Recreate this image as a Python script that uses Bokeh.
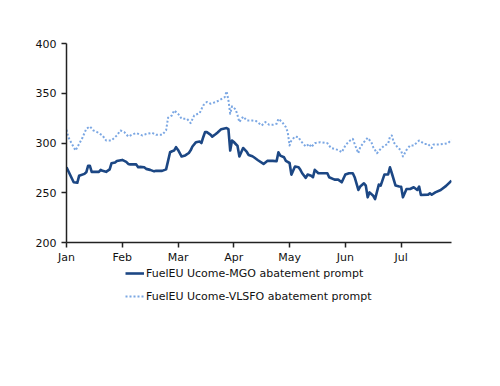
from bokeh.plotting import figure
from bokeh.layouts import column
from bokeh.models import Range1d, FixedTicker, Legend, LegendItem
from bokeh.embed import file_html
from bokeh.resources import INLINE
import calendar

YEAR = 2025
month_labels = ["Jan", "Feb", "Mar", "Apr", "May", "Jun", "Jul"]
y_ticks = [200, 250, 300, 350, 400]

mgo_dates = [
    "01-01", "01-05", "01-07", "01-08", "01-11", "01-12", "01-13", "01-14", "01-15", "01-19",
    "01-20", "01-21", "01-23", "01-25", "01-26", "01-28", "01-29", "02-01", "02-03", "02-04",
    "02-05", "02-08", "02-09", "02-10", "02-12", "02-13", "02-15", "02-17", "02-18", "02-21",
    "02-23", "02-24", "02-25", "02-26", "02-27", "02-28", "03-01", "03-03", "03-05", "03-07",
    "03-08", "03-09", "03-11", "03-13", "03-14", "03-15", "03-16", "03-17", "03-19", "03-20",
    "03-22", "03-23", "03-25", "03-28", "03-29", "03-30", "03-31", "04-01", "04-02", "04-03",
    "04-04", "04-06", "04-08", "04-09", "04-11", "04-12", "04-14", "04-17", "04-19", "04-22",
    "04-24", "04-25", "04-26", "04-28", "04-29", "05-01", "05-02", "05-04", "05-06", "05-07",
    "05-08", "05-10", "05-11", "05-13", "05-14", "05-15", "05-17", "05-19", "05-22", "05-23",
    "05-26", "05-28", "05-30", "06-01", "06-03", "06-05", "06-06", "06-08", "06-09", "06-11",
    "06-12", "06-13", "06-14", "06-16", "06-17", "06-19", "06-20", "06-22", "06-24", "06-25",
    "06-26", "06-28", "06-30", "07-01", "07-02", "07-04", "07-06", "07-08", "07-10", "07-11",
    "07-12", "07-16", "07-17", "07-18", "07-20", "07-23", "07-26", "07-29",
]
mgo_values = [
    275.6, 260.5, 260.0, 267.0, 269.0, 270.5, 277.0, 277.0, 271.0, 271.0,
    273.0, 272.0, 271.0, 273.5, 279.6, 280.5, 282.0, 283.0, 281.0, 279.0,
    278.5, 278.5, 275.7, 276.0, 275.7, 274.0, 273.0, 271.5, 272.0, 272.0,
    273.5, 282.0, 290.7, 291.7, 292.4, 295.8, 293.0, 286.4, 287.5, 290.0,
    292.6, 296.5, 300.8, 301.5, 300.0, 305.8, 310.9, 310.9, 308.5, 306.4,
    309.0, 310.5, 313.9, 315.0, 314.0, 292.4, 302.5, 301.0, 299.0, 297.0,
    286.4, 295.0, 291.0, 288.0, 286.7, 285.4, 282.7, 279.0, 282.0, 282.0,
    281.6, 290.7, 287.3, 285.7, 282.0, 279.9, 268.2, 276.3, 275.6, 273.0,
    269.6, 265.0, 268.3, 267.0, 265.6, 273.0, 269.6, 269.6, 269.6, 265.6,
    263.2, 263.2, 260.5, 268.3, 269.6, 269.6, 265.6, 252.8, 256.2, 259.5,
    257.2, 245.4, 250.4, 247.0, 243.7, 258.2, 257.2, 268.3, 268.3, 275.6,
    269.6, 257.2, 256.2, 256.0, 245.4, 253.8, 253.8, 255.5, 252.8, 256.2,
    247.8, 248.1, 249.4, 248.0, 250.4, 252.8, 256.9, 262.2,
]

vlsfo_dates = [
    "01-01", "01-02", "01-04", "01-06", "01-08", "01-10", "01-12", "01-14", "01-16", "01-18",
    "01-21", "01-23", "01-26", "01-29", "01-31", "02-02", "02-04", "02-06", "02-08", "02-11",
    "02-13", "02-16", "02-18", "02-21", "02-23", "02-24", "02-26", "02-27", "03-01", "03-03",
    "03-06", "03-08", "03-10", "03-13", "03-15", "03-17", "03-19", "03-22", "03-24", "03-27",
    "03-28", "03-29", "03-30", "03-31", "04-02", "04-03", "04-04", "04-06", "04-08", "04-11",
    "04-13", "04-16", "04-18", "04-20", "04-22", "04-24", "04-25", "04-27", "04-29", "04-30",
    "05-01", "05-02", "05-04", "05-06", "05-07", "05-10", "05-12", "05-13", "05-15", "05-18",
    "05-22", "05-24", "05-28", "05-30", "06-01", "06-03", "06-05", "06-06", "06-08", "06-09",
    "06-11", "06-13", "06-15", "06-16", "06-18", "06-20", "06-22", "06-24", "06-25", "06-26",
    "06-27", "06-29", "07-01", "07-02", "07-04", "07-06", "07-08", "07-11", "07-14", "07-16",
    "07-18", "07-19", "07-22", "07-25", "07-27", "07-29",
]
vlsfo_values = [
    313.3, 306.0, 299.0, 292.4, 299.0, 305.8, 314.3, 316.6, 312.6, 311.0,
    307.6, 302.5, 302.5, 307.6, 312.6, 311.0, 306.5, 308.5, 310.0, 307.6,
    309.0, 310.2, 308.2, 308.2, 312.6, 325.4, 327.8, 332.7, 329.4, 324.3,
    324.3, 320.0, 327.8, 330.0, 337.8, 341.2, 339.5, 341.2, 343.0, 346.2,
    352.0, 343.0, 329.4, 336.8, 333.8, 327.8, 321.0, 326.5, 322.6, 322.6,
    322.0, 317.6, 321.0, 318.3, 318.3, 319.3, 324.3, 321.0, 315.9, 310.9,
    297.5, 302.5, 306.5, 305.8, 302.5, 296.5, 299.1, 295.8, 299.8, 300.8,
    299.8, 295.0, 293.0, 290.7, 297.5, 301.8, 304.2, 299.0, 289.7, 295.8,
    300.8, 305.2, 300.8, 295.8, 289.7, 294.1, 297.5, 299.1, 306.5, 307.6,
    300.8, 295.8, 292.4, 286.4, 293.0, 297.5, 297.5, 302.5, 299.1, 299.1,
    295.0, 298.4, 298.4, 299.1, 299.8, 303.1,
]

mgo_label = "FuelEU Ucome-MGO abatement prompt"
vlsfo_label = "FuelEU Ucome-VLSFO abatement prompt"


def month_pos(md):
    # months are drawn with equal spacing, as in the reference
    m, d = (int(s) for s in md.split("-"))
    days = calendar.monthrange(YEAR, m)[1]
    return (m - 1) + (d - 1) / days


mgo_x = [month_pos(d) for d in mgo_dates]
vlsfo_x = [month_pos(d) for d in vlsfo_dates]

FONT = "DejaVu Sans"
MGO_STYLE = dict(line_color="#1C4784", line_width=2.6, line_join="round")
VLSFO_STYLE = dict(line_color="#7BA7E3", line_width=2.0, line_dash="2 2", line_join="round")

p = figure(
    frame_width=385, frame_height=199,
    output_backend="svg", toolbar_location=None,
    x_range=Range1d(0, max(mgo_x[-1], vlsfo_x[-1])),
    y_range=Range1d(200, 400),
    min_border_left=66, min_border_right=41, min_border_top=43, min_border_bottom=0,
)
p.outline_line_color = None
p.xgrid.grid_line_color = None
p.ygrid.grid_line_color = None
p.background_fill_color = "white"
p.border_fill_color = "white"

p.line(mgo_x, mgo_values, **MGO_STYLE)
p.line(vlsfo_x, vlsfo_values, **VLSFO_STYLE)

p.xaxis.ticker = FixedTicker(ticks=list(range(len(month_labels))))
p.xaxis.major_label_overrides = {i: lab for i, lab in enumerate(month_labels)}
p.yaxis.ticker = FixedTicker(ticks=y_ticks)

for ax in (p.xaxis, p.yaxis):
    ax.axis_line_color = "#222222"
    ax.axis_line_width = 1.5
    ax.major_tick_line_color = "#222222"
    ax.major_tick_line_width = 1.5
    ax.major_tick_in = 0
    ax.major_tick_out = 5
    ax.minor_tick_line_color = None
    ax.major_label_text_font = FONT
    ax.major_label_text_font_size = "11px"
    ax.major_label_text_color = "#111111"
p.xaxis.major_label_standoff = 3
p.yaxis.major_label_standoff = 5

# legend lives in its own strip below the chart; its series are the same data,
# drawn outside that strip's visible range so only the legend shows
LEG_H = 110
q = figure(
    width=492, height=LEG_H, output_backend="svg", toolbar_location=None,
    x_range=Range1d(0, 1), y_range=Range1d(0, 1),
    min_border=0, x_axis_type=None, y_axis_type=None,
)
q.outline_line_color = None
q.xgrid.grid_line_color = None
q.ygrid.grid_line_color = None
q.border_fill_color = "white"
q.background_fill_color = "white"
lr1 = q.line(mgo_x, mgo_values, **MGO_STYLE)
lr2 = q.line(vlsfo_x, vlsfo_values, **VLSFO_STYLE)

legend = Legend(
    items=[LegendItem(label=mgo_label, renderers=[lr1]),
           LegendItem(label=vlsfo_label, renderers=[lr2])],
    location=(59, LEG_H - 37), orientation="vertical",
    border_line_color=None, background_fill_alpha=0,
    label_text_font=FONT, label_text_font_size="11px", label_text_color="#111111",
    glyph_width=19, glyph_height=14, label_height=14, label_standoff=2,
    spacing=9, padding=0, margin=0,
)
q.add_layout(legend, "center")

open("out.html", "w").write(file_html(column(p, q, spacing=0), INLINE))
